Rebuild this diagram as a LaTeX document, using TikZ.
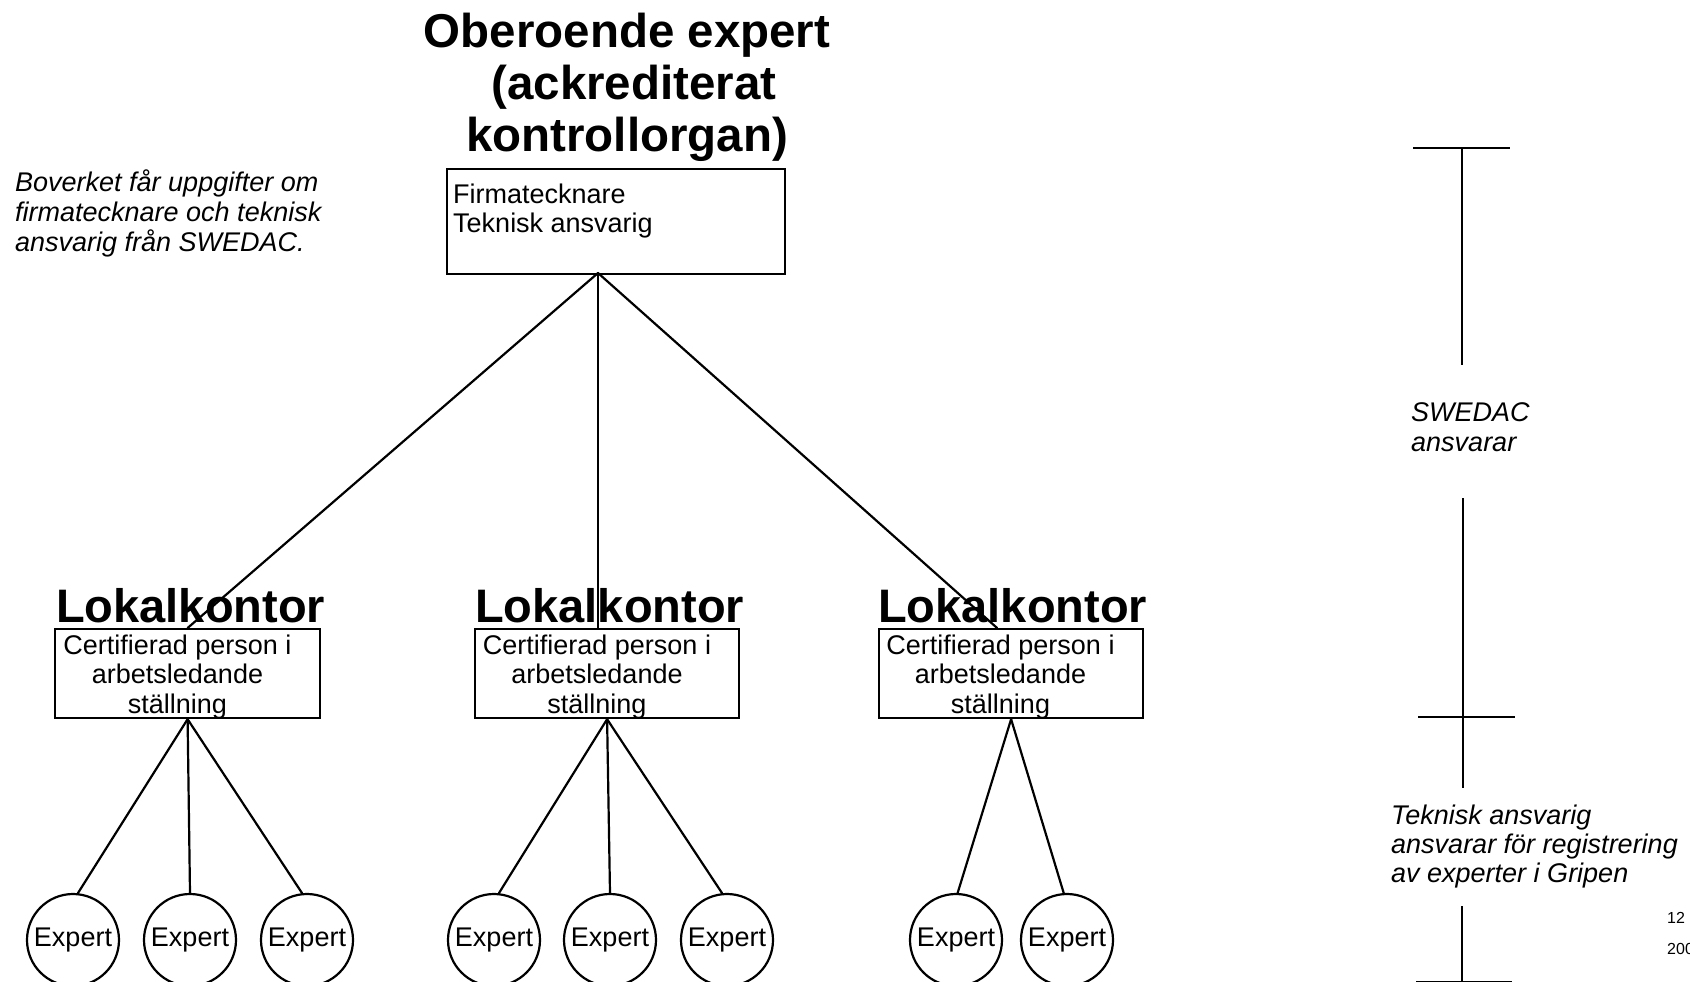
\documentclass[tikz,border=0pt]{standalone}
\usepackage{fontspec}
\setmainfont{Liberation Sans}
\usetikzlibrary{calc}
\begin{document}
\begin{tikzpicture}[x=1pt,y=-1pt,
  conn/.style={line width=2.2pt, line cap=round},
  boxst/.style={draw, line width=2.2pt, rectangle, inner sep=0pt},
  titlest/.style={font=\fontsize{47.5}{52}\selectfont\bfseries, align=center, inner sep=0pt},
  headst/.style={font=\fontsize{47}{50}\selectfont\bfseries, inner sep=0pt},
  notest/.style={font=\fontsize{27}{30}\selectfont\itshape, align=left, inner sep=0pt},
  txt/.style={font=\fontsize{27}{29}\selectfont, align=left, inner sep=0pt},
  ltxt/.style={font=\fontsize{27}{29.5}\selectfont, align=center, inner sep=0pt},
  expert/.style={draw, circle, line width=2.2pt, minimum size=92pt, inner sep=0pt, font=\fontsize{27}{29}\selectfont},
  smallst/.style={font=\fontsize{16}{18}\selectfont, inner sep=0pt}]
\useasboundingbox (0,0) rectangle (1690,982);

% title and note (base anchor = baseline of the last line)
\node[titlest, anchor=base] (title) at (627,151) {Oberoende expert\\\hspace*{14pt}(ackrediterat\\kontrollorgan)};
\node[notest, anchor=base west] (note) at (15,251) {Boverket får uppgifter om\\firmatecknare och teknisk\\ansvarig från SWEDAC.};

% top box
\node[boxst, minimum width=338pt, minimum height=105pt, anchor=north west] (top) at (446,168) {};
\node[txt, anchor=base west] (toptext) at (453,232) {Firmatecknare\\Teknisk ansvarig};

% local offices
\node[headst, anchor=base west] (h1) at (56,622) {Lokalkontor};
\node[headst, anchor=base west] (h2) at (475,622) {Lokalkontor};
\node[headst, anchor=base west] (h3) at (878,622) {Lokalkontor};
\node[boxst, minimum width=265pt, minimum height=89pt, anchor=north west] (l1) at (54,628) {};
\node[boxst, minimum width=264pt, minimum height=89pt, anchor=north west] (l2) at (474,628) {};
\node[boxst, minimum width=264pt, minimum height=89pt, anchor=north west] (l3) at (878,628) {};
\node[ltxt, anchor=base] (t1) at (177.5,713) {Certifierad person i\\arbetsledande\\ställning};
\node[ltxt, anchor=base] (t2) at (597,713) {Certifierad person i\\arbetsledande\\ställning};
\node[ltxt, anchor=base] (t3) at (1000.5,713) {Certifierad person i\\arbetsledande\\ställning};

% experts
\node[expert] (e11) at (73,940) {Expert};
\node[expert] (e12) at (190,940) {Expert};
\node[expert] (e13) at (307,940) {Expert};
\node[expert] (e21) at (494,940) {Expert};
\node[expert] (e22) at (610,940) {Expert};
\node[expert] (e23) at (727,940) {Expert};
\node[expert] (e31) at (956,940) {Expert};
\node[expert] (e32) at (1067,940) {Expert};

% connectors
\coordinate (fork) at (598,273);
\draw[conn] (fork) -- (l1.north);
\draw[conn] (fork) -- (fork |- l2.north);
\draw[conn] (fork) -- ($(l3.north)+(-14,0)$);
\draw[conn] (l1.south) -- (e11.84);
\draw[conn] (l1.south) -- (e12.north);
\draw[conn] (l1.south) -- (e13.96);
\draw[conn] (l2.south) -- (e21.84);
\draw[conn] (l2.south) -- (e22.north);
\draw[conn] (l2.south) -- (e23.96);
\draw[conn] (l3.south) -- (e31.88);
\draw[conn] (l3.south) -- (e32.94);

% right-hand scale
\coordinate (a1) at (1413,148);
\coordinate (a2) at (1510,148);
\coordinate (a3) at (1462,148);
\coordinate (a4) at (1462,365);
\draw[conn, line cap=butt] (a1) -- (a2);
\draw[conn, line cap=butt] (a3) -- (a4);
\node[notest, anchor=base west] (swedac) at (1411,451) {SWEDAC\\ansvarar};
\coordinate (b1) at (1463,498);
\coordinate (b2) at (1463,788);
\coordinate (b3) at (1418,717);
\coordinate (b4) at (1515,717);
\draw[conn, line cap=butt] (b1) -- (b2);
\draw[conn, line cap=butt] (b3) -- (b4);
\node[notest, anchor=base west, font=\fontsize{27}{29}\selectfont\itshape] (tek) at (1391,882) {Teknisk ansvarig\\ansvarar för registrering\\av experter i Gripen};
\coordinate (c1) at (1462,906);
\coordinate (c2) at (1462,982);
\coordinate (c3) at (1416,982);
\coordinate (c4) at (1512,982);
\draw[conn, line cap=butt] (c1) -- (c2);
\draw[conn, line cap=butt] (c3) -- (c4);
\node[smallst, anchor=base west] (pg) at (1667,923) {12};
\node[smallst, anchor=base west] (yr) at (1667,954) {200};
\end{tikzpicture}
\end{document}
